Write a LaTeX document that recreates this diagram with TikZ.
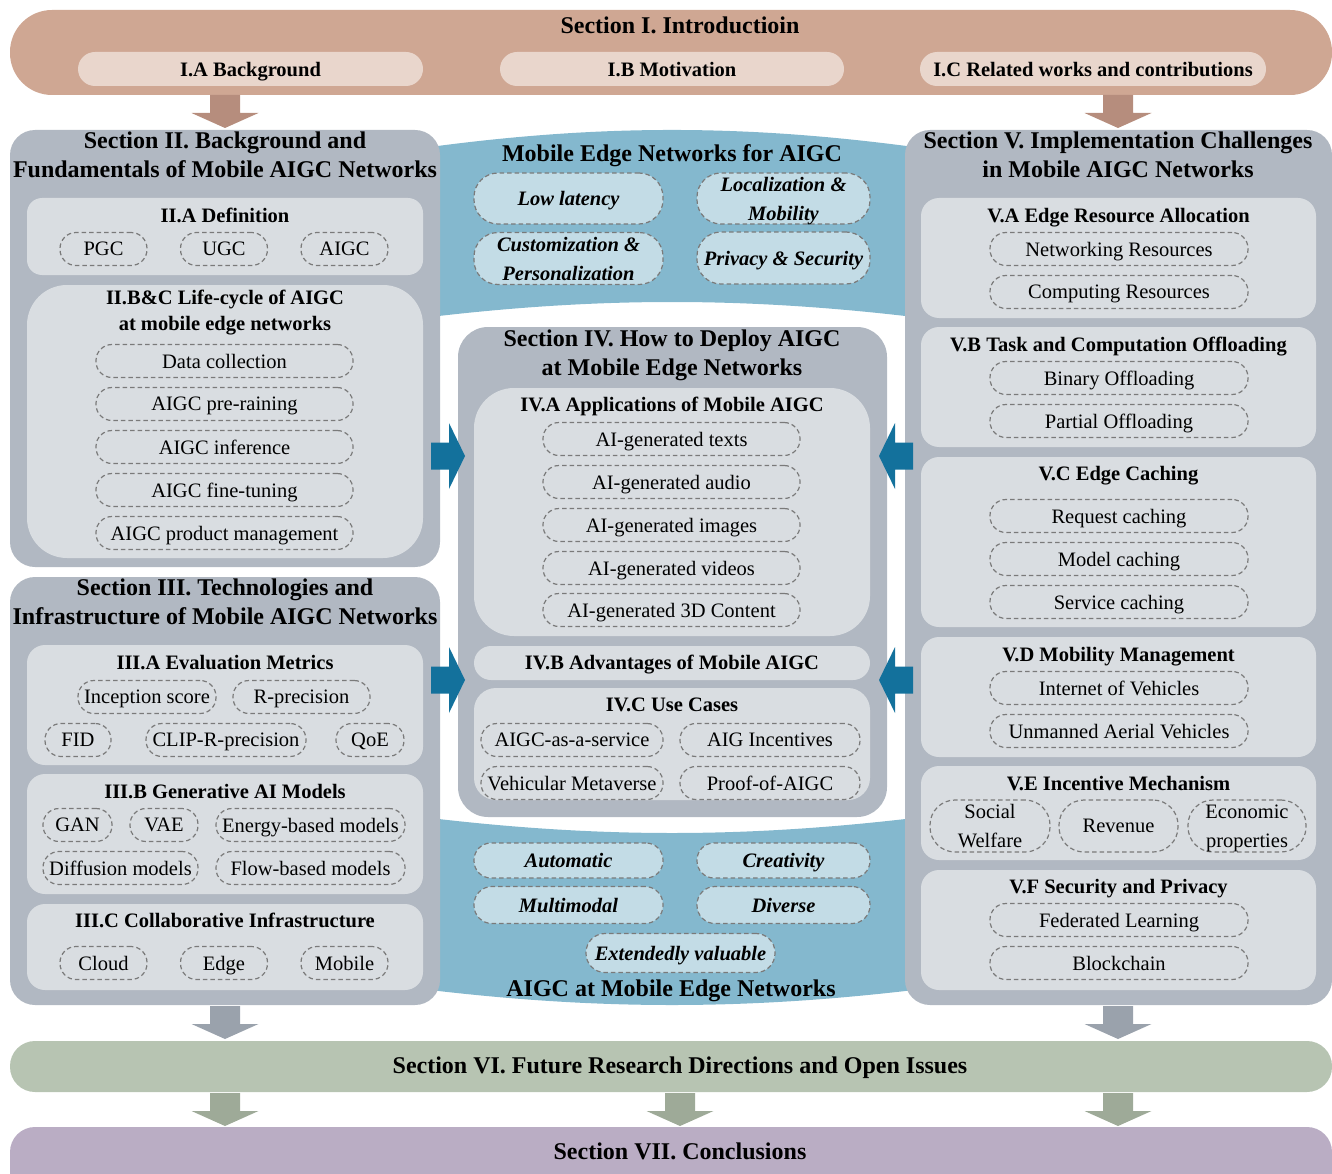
\documentclass[tikz,border=0pt]{standalone}
\usepackage{fontspec}
\setmainfont{Liberation Serif}
\usetikzlibrary{fit}
\definecolor{bannerTan}{HTML}{CFA793}
\definecolor{pillTan}{HTML}{E9D6CC}
\definecolor{arrTan}{HTML}{B68D7D}
\definecolor{secGray}{HTML}{B1B8C2}
\definecolor{subGray}{HTML}{D9DDE1}
\definecolor{bandBlue}{HTML}{84B8CE}
\definecolor{pillBlue}{HTML}{C3DCE6}
\definecolor{arrBlue}{HTML}{13719C}
\definecolor{arrGray}{HTML}{9AA2AC}
\definecolor{bannerGreen}{HTML}{B7C4B2}
\definecolor{arrGreen}{HTML}{9EAA98}
\definecolor{bannerPurple}{HTML}{BAADC4}
\definecolor{dashGray}{HTML}{7A7A7A}
\newcommand\fBig{\fontsize{24}{29}\selectfont\bfseries}
\newcommand\fSub{\fontsize{20.5}{26}\selectfont\bfseries}
\newcommand\fItem{\fontsize{20.5}{29}\selectfont}
\newcommand\fBI{\fontsize{20.5}{29}\selectfont\bfseries\itshape}
\newcommand\nodesc[1]{\raisebox{0pt}[\height][0pt]{#1}}
\newcommand\dnarrow[4]{\fill[#4] (#2-15,#3) -- (#2+15,#3) -- (#2+15,#3+18) -- (#2+33.5,#3+18) -- (#2,#3+33) -- (#2-33.5,#3+18) -- (#2-15,#3+18) -- cycle; \coordinate (#1) at (#2,#3+33);}
\newcommand\rtarrow[4]{\fill[#4] (#2,#3-13.5) -- (#2+18,#3-13.5) -- (#2+18,#3-33) -- (#2+34,#3) -- (#2+18,#3+33) -- (#2+18,#3+13.5) -- (#2,#3+13.5) -- cycle; \coordinate (#1) at (#2+34,#3);}
\newcommand\ltarrow[4]{\fill[#4] (#2,#3-13.5) -- (#2-18,#3-13.5) -- (#2-18,#3-33) -- (#2-34,#3) -- (#2-18,#3+33) -- (#2-18,#3+13.5) -- (#2,#3+13.5) -- cycle; \coordinate (#1) at (#2-34,#3);}
\begin{document}
\begin{tikzpicture}[x=1pt,y=-1pt,
  boxbase/.style={inner sep=0pt, outer sep=0pt},
  secbox/.style={boxbase, fill=secGray, rounded corners=25pt},
  subbox/.style={boxbase, fill=subGray, rounded corners=18pt},
  pill/.style={draw=dashGray, line width=1.2pt, dash pattern=on 4.5pt off 3pt, rounded corners=16pt, minimum height=33pt, inner sep=0pt, font=\fItem, align=center, text depth=0pt},
  mpill/.style={pill, text depth=},
  bpill/.style={pill, fill=pillBlue, font=\fBI},
  mbpill/.style={bpill, text depth=},
  big/.style={font=\fBig, align=center, inner sep=0pt},
  bigone/.style={big, text depth=0pt},
  sub/.style={font=\fSub, align=center, inner sep=0pt, text depth=0pt},
  msub/.style={sub, text depth=}]
\clip (0,0) rectangle (1332,1174);
\useasboundingbox (0,0) rectangle (1332,1174);

% ---------- blue bands ----------
\fill[bandBlue] (430,147) .. controls (600,124.3) and (744,124.3) .. (914,147) -- (914,317) .. controls (744,297) and (600,297) .. (430,317) -- cycle;
\fill[bandBlue] (430,818) .. controls (600,838) and (744,838) .. (914,818) -- (914,990) .. controls (744,1010) and (600,1010) .. (430,990) -- cycle;

% ---------- Section I ----------
\node[boxbase, fill=bannerTan, rounded corners=42pt, fit={(10,10) (1332,95)}] (s1) {};
\node[bigone] (s1t) at (680,25) {Section I. Introductioin};
\node[boxbase, fill=pillTan, rounded corners=17pt, fit={(78,52) (423,86)}] (s1a) {};
\node[boxbase, fill=pillTan, rounded corners=17pt, fit={(500,52) (844,86)}] (s1b) {};
\node[boxbase, fill=pillTan, rounded corners=17pt, fit={(920,52) (1266,86)}] (s1c) {};
\node[sub] (s1at) at (s1a) {I.A Background};
\node[sub] (s1bt) at (s1b) {I.B Motivation};
\node[sub] (s1ct) at (s1c) {I.C Related works and contributions};

% ---------- Section II ----------
\node[secbox, fit={(10,130) (440,567)}] (s2) {};
\node[big] (s2t) at (225,155) {Section II. Background and\\Fundamentals of Mobile AIGC Networks};
\node[subbox, rounded corners=15pt, fit={(27,198) (423,275)}] (s2a) {};
\node[sub] (s2at) at (225,215) {II.A Definition};
\node[pill, minimum width=87pt] (pgc) at (103.5,249) {PGC};
\node[pill, minimum width=87pt] (ugc) at (224,249) {UGC};
\node[pill, minimum width=87pt] (aigc) at (344.5,249) {AIGC};
\node[subbox, rounded corners=40pt, fit={(27,285) (423,558)}] (s2b) {};
\node[msub] (s2bt) at (225,310) {II.B\&C Life-cycle of AIGC\\\nodesc{at mobile edge networks}};
\node[pill, minimum width=257pt] (lc1) at (224.5,361) {Data collection};
\node[pill, minimum width=257pt] (lc2) at (224.5,404) {AIGC pre-raining};
\node[pill, minimum width=257pt] (lc3) at (224.5,447) {AIGC inference};
\node[pill, minimum width=257pt] (lc4) at (224.5,490) {AIGC fine-tuning};
\node[pill, minimum width=257pt] (lc5) at (224.5,533) {AIGC product management};

% ---------- Section III ----------
\node[secbox, fit={(10,577) (440,1005)}] (s3) {};
\node[big] (s3t) at (225,601.5) {Section III. Technologies and\\Infrastructure of Mobile AIGC Networks};
\node[subbox, fit={(27,645) (423,765)}] (s3a) {};
\node[sub] (s3at) at (225,662) {III.A Evaluation Metrics};
\node[pill, minimum width=138pt] (m1) at (147,697) {Inception score};
\node[pill, minimum width=137pt] (m2) at (301.5,697) {R-precision};
\node[pill, minimum width=66pt] (m3) at (78,740) {FID};
\node[pill, minimum width=160pt] (m4) at (226,740) {CLIP-R-precision};
\node[pill, minimum width=68pt] (m5) at (370,740) {QoE};
\node[subbox, fit={(27,774) (423,894)}] (s3b) {};
\node[sub] (s3bt) at (225,791) {III.B Generative AI Models};
\node[pill, minimum width=69pt] (g1) at (77.5,825) {GAN};
\node[pill, minimum width=68pt] (g2) at (164,825) {VAE};
\node[pill, minimum width=189pt] (g3) at (310.5,825) {Energy-based models};
\node[pill, minimum width=155pt] (g4) at (120.5,868) {Diffusion models};
\node[pill, minimum width=189pt] (g5) at (310.5,868) {Flow-based models};
\node[subbox, fit={(27,904) (423,990)}] (s3c) {};
\node[sub] (s3ct) at (225,920) {III.C Collaborative Infrastructure};
\node[pill, minimum width=87pt] (c1) at (103.5,963) {Cloud};
\node[pill, minimum width=87pt] (c2) at (224,963) {Edge};
\node[pill, minimum width=87pt] (c3) at (344.5,963) {Mobile};

% ---------- Section IV ----------
\node[secbox, rounded corners=30pt, fit={(458,327) (887,817)}] (s4) {};
\node[big] (s4t) at (672,352.5) {Section IV. How to Deploy AIGC\\\nodesc{at Mobile Edge Networks}};
\node[subbox, rounded corners=40pt, fit={(474,388) (870,636)}] (s4a) {};
\node[sub] (s4at) at (672,404) {IV.A Applications of Mobile AIGC};
\node[pill, minimum width=257pt] (ap1) at (671.5,439) {AI-generated texts};
\node[pill, minimum width=257pt] (ap2) at (671.5,482) {AI-generated audio};
\node[pill, minimum width=257pt] (ap3) at (671.5,525) {AI-generated images};
\node[pill, minimum width=257pt] (ap4) at (671.5,568) {AI-generated videos};
\node[pill, minimum width=257pt] (ap5) at (671.5,610) {AI-generated 3D Content};
\node[subbox, rounded corners=17pt, fit={(474,646) (870,680)}] (s4b) {};
\node[sub] (s4bt) at (672,662) {IV.B Advantages of Mobile AIGC};
\node[subbox, rounded corners=22pt, fit={(474,688) (870,800)}] (s4c) {};
\node[sub] (s4ct) at (672,705) {IV.C Use Cases};
\node[pill, minimum width=182pt] (u1) at (572,740) {AIGC-as-a-service};
\node[pill, minimum width=180pt] (u2) at (770,740) {AIG Incentives};
\node[pill, minimum width=182pt] (u3) at (572,783) {Vehicular Metaverse};
\node[pill, minimum width=180pt] (u4) at (770,783) {Proof-of-AIGC};

% ---------- blue band contents ----------
\node[bigone] (bt1) at (672,153) {Mobile Edge Networks for AIGC};
\node[bpill, minimum width=189pt, minimum height=51pt, rounded corners=24pt] (b1) at (568.5,198.5) {Low latency};
\node[mbpill, minimum width=173pt, minimum height=51pt, rounded corners=24pt] (b2) at (783.5,198.5) {Localization \&\\\nodesc{Mobility}};
\node[mbpill, minimum width=189pt, minimum height=52pt, rounded corners=24pt] (b3) at (568.5,258.5) {Customization \&\\Personalization};
\node[bpill, minimum width=173pt, minimum height=52pt, rounded corners=24pt] (b4) at (783.5,258) {Privacy \& Security};
\node[bpill, minimum width=189pt, minimum height=35pt, rounded corners=17pt] (b5) at (568.5,860.5) {Automatic};
\node[bpill, minimum width=173pt, minimum height=35pt, rounded corners=17pt] (b6) at (783.5,860.5) {Creativity};
\node[bpill, minimum width=189pt, minimum height=37pt, rounded corners=18pt] (b7) at (568.5,905) {Multimodal};
\node[bpill, minimum width=173pt, minimum height=37pt, rounded corners=18pt] (b8) at (783.5,905) {Diverse};
\node[bpill, minimum width=189pt, minimum height=39pt, rounded corners=19pt] (b9) at (680.5,953) {Extendedly valuable};
\node[bigone] (bt2) at (671,988) {AIGC at Mobile Edge Networks};

% ---------- Section V ----------
\node[secbox, fit={(905,130) (1332,1005)}] (s5) {};
\node[big] (s5t) at (1118,155) {Section V. Implementation Challenges\\in Mobile AIGC Networks};
\node[subbox, fit={(921,198) (1316,318)}] (s5a) {};
\node[sub] (s5at) at (1118.5,215) {V.A Edge Resource Allocation};
\node[pill, minimum width=258pt] (r1) at (1119,249) {Networking Resources};
\node[pill, minimum width=258pt] (r2) at (1119,292) {Computing Resources};
\node[subbox, fit={(921,327) (1316,447)}] (s5b) {};
\node[sub] (s5bt) at (1118.5,344) {V.B Task and Computation Offloading};
\node[pill, minimum width=258pt] (o1) at (1119,378) {Binary Offloading};
\node[pill, minimum width=258pt] (o2) at (1119,421) {Partial Offloading};
\node[subbox, fit={(921,457) (1316,627)}] (s5c) {};
\node[sub] (s5ct) at (1118.5,473) {V.C Edge Caching};
\node[pill, minimum width=258pt] (k1) at (1119,516) {Request caching};
\node[pill, minimum width=258pt] (k2) at (1119,559) {Model caching};
\node[pill, minimum width=258pt] (k3) at (1119,602) {Service caching};
\node[subbox, fit={(921,637) (1316,757)}] (s5d) {};
\node[sub] (s5dt) at (1118.5,654) {V.D Mobility Management};
\node[pill, minimum width=258pt] (v1) at (1119,688) {Internet of Vehicles};
\node[pill, minimum width=258pt] (v2) at (1119,731) {Unmanned Aerial Vehicles};
\node[subbox, fit={(921,766) (1316,860)}] (s5e) {};
\node[sub] (s5et) at (1118.5,783) {V.E Incentive Mechanism};
\node[mpill, minimum width=120pt, minimum height=52pt, rounded corners=25pt] (e1) at (990,826) {Social\\Welfare};
\node[pill, minimum width=119pt, minimum height=52pt, rounded corners=25pt] (e2) at (1118.5,826) {Revenue};
\node[mpill, minimum width=118pt, minimum height=52pt, rounded corners=25pt] (e3) at (1247,826) {Economic\\\nodesc{properties}};
\node[subbox, fit={(921,870) (1316,990)}] (s5f) {};
\node[sub] (s5ft) at (1118.5,886) {V.F Security and Privacy};
\node[pill, minimum width=258pt] (f1) at (1119,920) {Federated Learning};
\node[pill, minimum width=258pt] (f2) at (1119,963) {Blockchain};

% ---------- Sections VI, VII ----------
\node[boxbase, fill=bannerGreen, rounded corners=25pt, fit={(10,1041) (1332,1092)}] (s6) {};
\node[bigone] (s6t) at (680,1065) {Section VI. Future Research Directions and Open Issues};
\node[boxbase, fill=bannerPurple, rounded corners=25pt, fit={(10,1127) (1332,1200)}] (s7) {};
\node[bigone] (s7t) at (680,1151) {Section VII. Conclusions};

% ---------- block arrows ----------
\dnarrow{a1}{225}{95}{arrTan}
\dnarrow{a2}{1118}{95}{arrTan}
\rtarrow{a3}{431}{456}{arrBlue}
\rtarrow{a4}{431}{680}{arrBlue}
\ltarrow{a5}{913}{456}{arrBlue}
\ltarrow{a6}{913}{680}{arrBlue}
\dnarrow{a7}{225}{1006}{arrGray}
\dnarrow{a8}{1118}{1006}{arrGray}
\dnarrow{a9}{225}{1093}{arrGreen}
\dnarrow{a10}{680}{1093}{arrGreen}
\dnarrow{a11}{1118}{1093}{arrGreen}
\end{tikzpicture}
\end{document}
